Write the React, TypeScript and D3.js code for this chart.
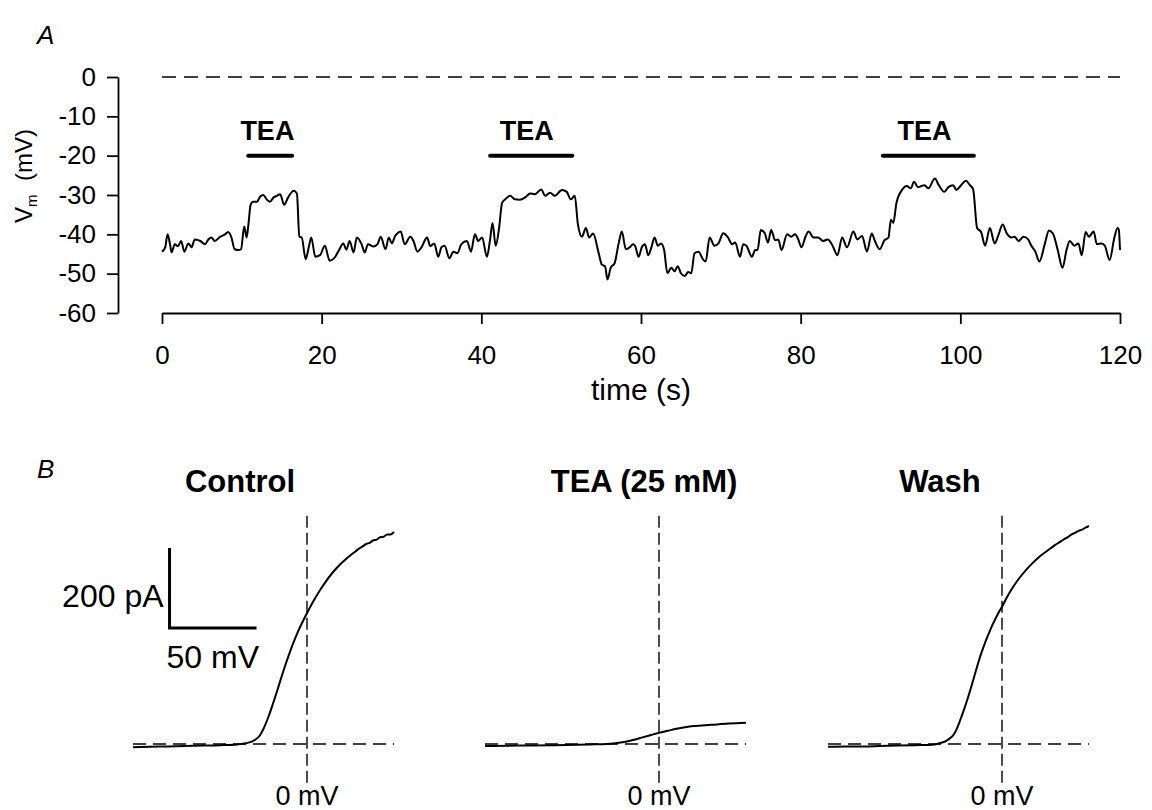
import React, { useEffect, useRef } from 'react';
import * as d3 from 'd3';

// ---- panel A: membrane potential trace (time s, Vm mV) ----
const vmTrace: [number, number][] = [
  [0, -44.4], [0.4, -43.3], [0.7, -40.0], [1.0, -42.5], [1.2, -44.6], [1.6, -42.5], [2.0, -43.0], [2.4, -41.7],
  [2.8, -44.4], [3.3, -42.3], [3.7, -43.3], [4.1, -41.3], [4.8, -41.7], [5.4, -42.5], [5.8, -41.3], [6.2, -40.8],
  [6.6, -41.7], [7.3, -40.6], [7.9, -40.0], [8.3, -39.4], [8.7, -40.8], [9.1, -43.8], [9.6, -44.0], [9.9, -43.8],
  [10.3, -38.0], [10.6, -40.8], [10.8, -38.0], [11.1, -32.5], [11.4, -31.7], [11.9, -31.7], [12.3, -30.4], [12.7, -30.0],
  [13.1, -31.1], [13.5, -31.7], [14.0, -30.6], [14.4, -30.2], [14.8, -29.8], [15.3, -32.5], [15.8, -30.6], [16.5, -28.9],
  [16.9, -29.6], [17.2, -40.6], [17.5, -40.8], [18.0, -46.3], [18.4, -43.1], [18.7, -40.8], [19.2, -45.7], [19.8, -45.3],
  [20.4, -42.9], [21.0, -46.7], [21.7, -45.7], [22.2, -43.9], [22.7, -42.3], [23.1, -43.9], [23.5, -41.7], [24.0, -44.6],
  [24.4, -40.8], [25.0, -42.5], [25.4, -44.6], [25.8, -42.5], [26.5, -43.1], [27.0, -42.5], [27.4, -40.6], [28.0, -43.8],
  [28.4, -40.8], [28.8, -42.3], [29.2, -40.4], [29.5, -39.7], [29.9, -39.3], [30.4, -42.5], [31.1, -40.6], [31.5, -41.7],
  [32.0, -44.4], [32.5, -43.3], [33.2, -40.8], [33.6, -43.0], [34.1, -42.3], [34.6, -45.7], [35.0, -43.3], [35.4, -42.9],
  [36.0, -46.1], [36.5, -44.4], [37.0, -44.8], [37.5, -42.5], [38.2, -41.7], [38.7, -44.4], [39.2, -40.0], [39.6, -41.7],
  [40.1, -40.8], [40.7, -45.7], [41.1, -41.3], [41.4, -37.1], [41.8, -42.9], [42.2, -38.8], [42.6, -32.0], [43.0, -31.1],
  [43.6, -30.2], [44.2, -31.1], [44.8, -31.2], [45.5, -30.6], [46.1, -29.6], [46.7, -29.8], [47.5, -28.6], [48.0, -30.2],
  [48.6, -29.4], [49.2, -30.2], [50.1, -28.7], [50.7, -29.2], [51.2, -31.1], [51.7, -30.2], [52.1, -37.5], [52.6, -40.6],
  [53.1, -38.4], [53.5, -40.8], [54.0, -39.8], [54.7, -44.8], [55.1, -47.7], [55.5, -48.1], [55.8, -51.5], [56.2, -48.5],
  [56.7, -47.3], [57.2, -42.3], [57.6, -39.3], [58.1, -43.8], [58.6, -43.3], [59.0, -42.5], [59.25, -42.9], [59.7, -45.7],
  [60.1, -43.3], [60.5, -42.5], [60.9, -45.3], [61.3, -43.3], [61.7, -40.8], [62.1, -42.9], [62.5, -42.3], [62.9, -44.0],
  [63.3, -49.9], [63.8, -48.5], [64.2, -49.4], [64.6, -48.1], [65.0, -49.9], [65.5, -50.6], [65.9, -49.6], [66.3, -49.9],
  [66.7, -44.8], [67.2, -44.4], [67.8, -46.5], [68.1, -46.9], [68.6, -40.8], [69.2, -42.9], [69.7, -42.3], [70.3, -39.7],
  [70.9, -40.8], [71.4, -42.5], [71.8, -42.1], [72.4, -45.7], [72.8, -42.5], [73.2, -42.9], [73.9, -45.7], [74.3, -44.0],
  [74.6, -44.0], [75.0, -38.9], [75.5, -39.7], [75.9, -42.1], [76.3, -38.9], [76.8, -41.5], [77.2, -41.3], [77.6, -44.0],
  [78.3, -40.0], [78.8, -40.6], [79.3, -40.0], [79.7, -41.3], [80.1, -43.3], [80.6, -40.6], [81.0, -39.3], [81.6, -40.8],
  [82.2, -40.8], [82.8, -41.7], [83.4, -41.3], [84.0, -42.9], [84.6, -45.3], [85.2, -40.8], [85.8, -43.3], [86.6, -39.3],
  [87.1, -41.3], [87.7, -40.4], [88.3, -44.4], [88.9, -39.8], [89.3, -41.7], [89.9, -43.8], [90.5, -41.5], [91.0, -40.8],
  [91.3, -36.3], [91.6, -37.1], [92.0, -32.0], [92.7, -28.7], [93.3, -27.7], [93.8, -28.3], [94.2, -26.6], [94.7, -28.0],
  [95.5, -27.5], [96.0, -28.3], [96.8, -25.8], [97.3, -27.5], [98.0, -29.2], [98.5, -28.0], [99.1, -27.5], [99.5, -28.7],
  [100.1, -27.5], [100.7, -26.4], [101.2, -27.5], [101.6, -28.5], [102.1, -38.4], [102.6, -39.4], [103.1, -42.9], [103.7, -38.4],
  [104.3, -42.3], [104.8, -40.0], [105.3, -37.5], [105.8, -39.7], [106.4, -40.8], [106.8, -40.6], [107.3, -41.7], [107.9, -40.6],
  [108.5, -41.3], [108.9, -42.9], [109.4, -44.4], [109.9, -46.9], [110.6, -42.3], [111.1, -39.0], [111.6, -39.8], [112.2, -44.0],
  [112.8, -48.5], [113.3, -44.0], [113.7, -41.7], [114.3, -42.9], [114.8, -42.3], [115.2, -45.3], [115.7, -39.4], [116.1, -40.6],
  [116.7, -39.3], [117.1, -42.5], [117.7, -42.3], [118.1, -42.9], [118.7, -46.5], [119.3, -40.8], [119.7, -38.4], [119.85, -38.8],
  [120, -44.0],
];

// TEA application periods (s) and label positions (s)
const teaStart = [10.8, 41.1, 90.3];
const teaEnd = [16.3, 51.4, 101.7];
const teaLabelAt = [13.2, 45.7, 95.5];
const teaLevel = -20;

const yTicksA = [0, -10, -20, -30, -40, -50, -60];
const xTicksA = [0, 20, 40, 60, 80, 100, 120];

// ---- panel B: I-V relations during ramps (mV, pA) ----
const ivControl: [number, number][] = [
  [-100, -8], [-90, -7], [-80, -6], [-70, -5], [-60, -4], [-50, -3], [-40, -1], [-35, 2], [-30, 10],
  [-27, 22], [-25, 38], [-22, 70], [-20, 95], [-17, 135], [-15, 163], [-12, 203], [-10, 228], [-7, 262],
  [-5, 283], [-2, 310], [0, 327], [3, 352], [5, 367], [8, 388], [10, 401], [15, 430], [20, 453], [25, 472],
  [28, 482], [30, 489], [32, 494], [34, 500], [36, 503], [38, 509], [40, 511], [42, 517], [44, 518], [46, 524],
  [48, 524], [50, 530],
];
const ivTea: [number, number][] = [
  [-100, -5], [-80, -4], [-60, -3], [-40, -1], [-30, 0], [-25, 2], [-20, 5], [-15, 10], [-10, 16],
  [-5, 22], [0, 28], [5, 33], [10, 38], [15, 42], [20, 45], [30, 48], [40, 51], [50, 53],
];
const ivWash: [number, number][] = [
  [-100, -7], [-90, -6], [-80, -6], [-70, -5], [-60, -4], [-50, -3], [-40, -2], [-35, 3], [-32, 8],
  [-30, 14], [-28, 22], [-26, 38], [-24, 60], [-22, 84], [-20, 110], [-18, 138], [-16, 168], [-14, 198],
  [-12, 226], [-10, 250], [-8, 272], [-6, 293], [-4, 311], [-2, 328], [0, 343], [3, 368], [6, 390],
  [10, 415], [14, 436], [18, 454], [22, 470], [26, 483], [30, 496], [34, 507], [36, 513], [38, 518],
  [40, 524], [42, 528], [44, 533], [46, 536], [48, 541], [50, 545],
];

const ivTitles = ['Control', 'TEA (25 mM)', 'Wash'];
const ivSeries = [ivControl, ivTea, ivWash];
const ivRange = [-100, 50];
const guideRange = [-97, 580];
const scaleBarPA = 200;
const scaleBarMV = 50;
const scaleBarCorner: [number, number] = [-79, 290];

// layout
const FONT = '"Liberation Sans", Arial, Helvetica, sans-serif';
const panelZero = [307, 659, 1002];
const titleShift = [-67, -15, -62];

const VmAxes = ({ x, y }: { x: d3.ScaleLinear<number, number>; y: d3.ScaleLinear<number, number> }) => {
  const xRef = useRef<SVGGElement>(null);
  const yRef = useRef<SVGGElement>(null);

  useEffect(() => {
    const gx = d3.select(xRef.current!);
    gx.selectAll('*').remove();
    gx.call(d3.axisBottom(x).tickValues(xTicksA).tickFormat(d => String(d))
      .tickSize(11).tickPadding(22).tickSizeOuter(0));
    const gy = d3.select(yRef.current!);
    gy.selectAll('*').remove();
    gy.call(d3.axisLeft(y).tickValues(yTicksA).tickFormat(d => String(d))
      .tickSize(11).tickPadding(11).tickSizeOuter(0));
    [gx, gy].forEach(g => {
      g.attr('font-family', FONT).attr('font-size', 26);
      g.selectAll('path, line').attr('stroke', '#000').attr('stroke-width', 1.8);
      g.selectAll('text').attr('fill', '#000');
    });
  }, [x, y]);

  return (
    <>
      <g ref={xRef} transform={`translate(0,${y(-60)})`} />
      <g ref={yRef} transform={`translate(118,0)`} />
    </>
  );
};

export default function App() {
  const xA = d3.scaleLinear().domain([0, 120]).range([162, 1120]);
  const yA = d3.scaleLinear().domain([-60, 0]).range([313, 77]);
  const vmLine = d3.line<[number, number]>().x(d => xA(d[0])).y(d => yA(d[1])).curve(d3.curveMonotoneX);

  const yB = d3.scaleLinear().domain([0, 200]).range([744, 664]);
  const ivPanels = panelZero.map(z => d3.scaleLinear().domain([0, 50]).range([z, z + 87]));
  const xCtl = ivPanels[0];

  return (
    <svg width={1152} height={810} style={{ position: 'absolute', left: 0, top: 0, background: '#fff' }}
      fontFamily={FONT}>
      <rect width={1152} height={810} fill="#fff" />

      {/* Panel A */}
      <text x={37} y={44} fontSize={26} fontStyle="italic">A</text>
      <line x1={xA(0)} x2={xA(120)} y1={yA(0)} y2={yA(0)} stroke="#000" strokeWidth={1.5} strokeDasharray="14,8" />
      <VmAxes x={xA} y={yA} />
      <text transform={`translate(32,176) rotate(-90)`} textAnchor="middle" fontSize={24}>
        V<tspan fontSize={15} dy={5}>m</tspan><tspan dy={-5}>{'\u00a0\u00a0(mV)'}</tspan>
      </text>
      <text x={xA(60)} y={400} textAnchor="middle" fontSize={30}>time (s)</text>

      {teaStart.map((s, i) => (
        <g key={`tea${i}`}>
          <line x1={xA(s)} x2={xA(teaEnd[i])} y1={yA(teaLevel)} y2={yA(teaLevel)}
            stroke="#000" strokeWidth={4} strokeLinecap="round" />
          <text x={xA(teaLabelAt[i])} y={140} textAnchor="middle" fontSize={27} fontWeight="bold">TEA</text>
        </g>
      ))}
      <path d={vmLine(vmTrace) ?? ''} fill="none" stroke="#000" strokeWidth={2} strokeLinejoin="round" />

      {/* Panel B */}
      <text x={37} y={478} fontSize={26} fontStyle="italic">B</text>
      {ivSeries.map((series, i) => {
        const xB = ivPanels[i];
        const line = d3.line<[number, number]>().x(d => xB(d[0])).y(d => yB(d[1])).curve(d3.curveMonotoneX);
        return (
          <g key={`iv${i}`}>
            <line x1={xB(ivRange[0])} x2={xB(ivRange[1])} y1={yB(0)} y2={yB(0)}
              stroke="#000" strokeWidth={1.4} strokeDasharray="13,7" />
            <line x1={xB(0)} x2={xB(0)} y1={yB(guideRange[0])} y2={yB(guideRange[1])}
              stroke="#000" strokeWidth={1.4} strokeDasharray="12,5" />
            <path d={line(series) ?? ''} fill="none" stroke="#000" strokeWidth={2} />
            <text x={xB(0) + titleShift[i]} y={492} textAnchor="middle" fontSize={31} fontWeight="bold">
              {ivTitles[i]}
            </text>
            <text x={xB(0)} y={805} textAnchor="middle" fontSize={27}>0 mV</text>
          </g>
        );
      })}

      {/* scale bars */}
      <path
        d={`M${xCtl(scaleBarCorner[0])},${yB(scaleBarCorner[1] + scaleBarPA)}V${yB(scaleBarCorner[1])}H${xCtl(scaleBarCorner[0] + scaleBarMV)}`}
        fill="none" stroke="#000" strokeWidth={3} />
      <text x={xCtl(scaleBarCorner[0]) - 6} y={607} textAnchor="end" fontSize={32}>{scaleBarPA} pA</text>
      <text x={xCtl(scaleBarCorner[0]) - 3} y={668} fontSize={32}>{scaleBarMV} mV</text>
    </svg>
  );
}
